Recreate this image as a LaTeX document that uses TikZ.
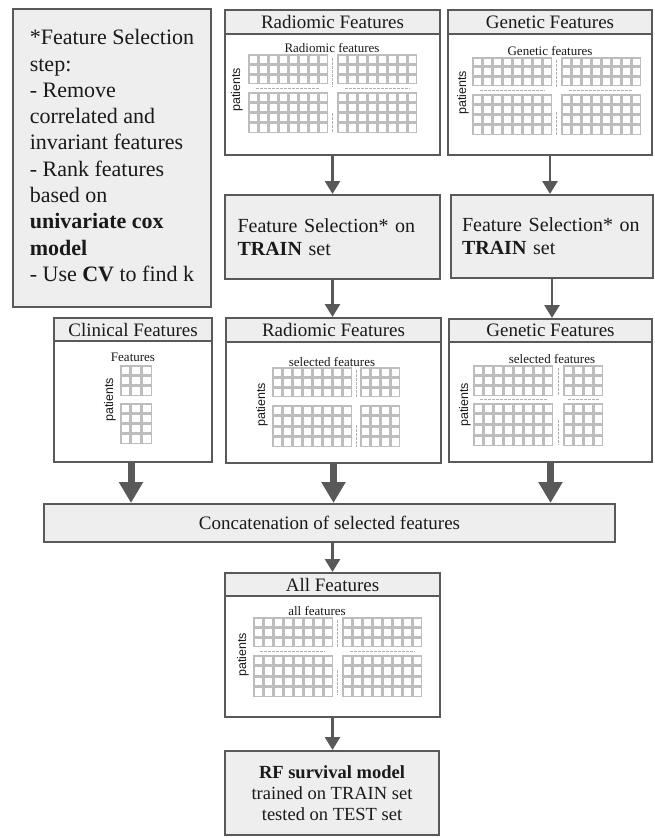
\documentclass[tikz,border=0pt]{standalone}
\usepackage{fontspec}
\setmainfont{Liberation Serif}
\newfontfamily\arialf{Liberation Sans}
\usetikzlibrary{arrows.meta}
\definecolor{bordergray}{HTML}{595959}
\definecolor{boxfill}{HTML}{EEEEEE}
\definecolor{gridgray}{HTML}{BDBDBD}
\definecolor{sepgray}{HTML}{B0B0B0}
\definecolor{textc}{HTML}{1A1A1A}
\newcommand{\cellgrid}[6]{%
  \fill[gridgray] (#1,#2) rectangle ++(#3,#4);
  \pgfmathsetmacro{\cgw}{#3/#5}%
  \pgfmathsetmacro{\cgh}{#4/#6}%
  \foreach \ci in {1,...,#5}{%
    \foreach \cj in {1,...,#6}{%
      \fill[white] ({#1+(\ci-1)*\cgw+1.5},{#2+(\cj-1)*\cgh+1.5}) rectangle ++({\cgw-3},{\cgh-3});
    }%
  }%
}
\begin{document}
\begin{tikzpicture}[x=1pt,y=-1pt,
  outerbox/.style={draw=bordergray, line width=2pt, fill=white, inner sep=0pt, anchor=north west},
  hdrbox/.style={draw=bordergray, line width=2pt, fill=boxfill, inner sep=0pt, anchor=north west, text=textc, font=\fontsize{19}{22}\selectfont},
  graybox/.style={draw=bordergray, line width=2pt, fill=boxfill, anchor=north west, text=textc},
  innerlbl/.style={text=textc, inner sep=0pt, font=\fontsize{13}{15}\selectfont},
  patlbl/.style={rotate=90, text=textc, inner sep=0pt, font=\arialf\fontsize{12.5}{14}\selectfont},
  sepline/.style={draw=sepgray, line width=0.9pt, dash pattern=on 2.5pt off 1.5pt},
  thinarrow/.style={draw=bordergray, line width=2.8pt, -{Triangle[width=15pt,length=13pt]}},
  thickarrow/.style={draw=bordergray, line width=7pt, -{Triangle[width=23pt,length=21pt]}}
]
\useasboundingbox (0,0) rectangle (654,838);

% ---------- left note box ----------
\node[graybox, minimum width=198pt, minimum height=298pt, inner sep=0pt,
      align=left, font=\fontsize{22}{26.3}\selectfont] (note) at (12,8)
 {*Feature Selection\\ step:\\ - Remove\\ correlated and\\ invariant features\\ - Rank features\\ based on\\ \textbf{univariate cox}\\ \textbf{model}\\ - Use \textbf{CV} to find k\rule[-5pt]{0pt}{5pt}};

% ---------- top radiomic ----------
\node[outerbox, minimum width=215pt, minimum height=145pt] (radtop) at (224,9) {};
\node[hdrbox, minimum width=215pt, minimum height=24pt] (radtophdr) at (224,9) {Radiomic Features};
\node[innerlbl] (radtoplbl) at (332,48) {Radiomic features};
\cellgrid{248}{54}{80}{30}{8}{3}
\cellgrid{337}{54}{80}{30}{8}{3}
\cellgrid{248}{92}{80}{41}{8}{4}
\cellgrid{337}{92}{80}{41}{8}{4}
\draw[sepline] (256,88.5) -- (320,88.5);
\draw[sepline] (345,88.5) -- (410,88.5);
\draw[sepline] (332.5,58) -- (332.5,87);
\draw[sepline] (332.5,113) -- (332.5,132);
\node[patlbl] (radtoppat) at (237,90) {patients};

% ---------- top genetic ----------
\node[outerbox, minimum width=204pt, minimum height=145pt] (gentop) at (447,9) {};
\node[hdrbox, minimum width=204pt, minimum height=24pt] (gentophdr) at (447,9) {Genetic Features};
\node[innerlbl] (gentoplbl) at (550,51) {Genetic features};
\cellgrid{472}{57}{80}{29}{8}{3}
\cellgrid{561}{57}{80}{29}{8}{3}
\cellgrid{472}{94}{80}{41}{8}{4}
\cellgrid{561}{94}{80}{41}{8}{4}
\draw[sepline] (480,90.5) -- (545,90.5);
\draw[sepline] (569,90.5) -- (633,90.5);
\draw[sepline] (556.5,60) -- (556.5,88);
\draw[sepline] (556.5,112) -- (556.5,135);
\node[patlbl] (gentoppat) at (463,93) {patients};

% ---------- feature selection boxes ----------
\node[graybox, minimum width=215pt, minimum height=84pt, inner sep=0pt,
      text width=190pt, align=left, font=\fontsize{20}{23}\selectfont] (radfs) at (224,194)
 {Feature Selection* on\\ \textbf{TRAIN} set};
\node[graybox, minimum width=202pt, minimum height=83pt, inner sep=0pt,
      text width=180pt, align=left, font=\fontsize{20}{23}\selectfont] (genfs) at (450,194)
 {Feature Selection* on\\ \textbf{TRAIN} set};

% ---------- clinical ----------
\node[outerbox, minimum width=158pt, minimum height=144pt] (clin) at (53,317) {};
\node[hdrbox, minimum width=158pt, minimum height=23pt] (clinhdr) at (53,317) {Clinical Features};
\node[innerlbl] (clinlbl) at (133,357) {Features};
\cellgrid{120}{365}{32}{31}{3}{3}
\cellgrid{120}{403}{32}{41}{3}{4}
\node[patlbl] (clinpat) at (110,400) {patients};

% ---------- middle radiomic ----------
\node[outerbox, minimum width=215pt, minimum height=145pt] (radmid) at (225,317) {};
\node[hdrbox, minimum width=215pt, minimum height=24pt] (radmidhdr) at (225,317) {Radiomic Features};
\node[innerlbl] (radmidlbl) at (332,362) {selected features};
\cellgrid{272}{367}{80}{30}{8}{3}
\cellgrid{360}{367}{40}{30}{4}{3}
\cellgrid{272}{405}{80}{42}{8}{4}
\cellgrid{360}{405}{40}{42}{4}{4}
\draw[sepline] (356,370) -- (356,398);
\draw[sepline] (356,425) -- (356,447);
\node[patlbl] (radmidpat) at (262,405) {patients};

% ---------- middle genetic ----------
\node[outerbox, minimum width=203pt, minimum height=143pt] (genmid) at (448,318) {};
\node[hdrbox, minimum width=203pt, minimum height=23pt] (genmidhdr) at (448,318) {Genetic Features};
\node[innerlbl] (genmidlbl) at (552,359) {selected features};
\cellgrid{473}{365}{80}{31}{8}{3}
\cellgrid{563}{365}{40}{31}{4}{3}
\cellgrid{473}{403}{80}{43}{8}{4}
\cellgrid{563}{403}{40}{43}{4}{4}
\draw[sepline] (480,399.5) -- (548,399.5);
\draw[sepline] (568,399.5) -- (600,399.5);
\draw[sepline] (558,368) -- (558,395);
\draw[sepline] (558,420) -- (558,445);
\node[patlbl] (genmidpat) at (465,405) {patients};

% ---------- concatenation ----------
\node[graybox, minimum width=571pt, minimum height=38pt, inner sep=0pt,
      font=\fontsize{19}{22}\selectfont] (concat) at (43,503) {Concatenation of selected features};

% ---------- all features ----------
\node[outerbox, minimum width=215pt, minimum height=144pt] (allf) at (224,572) {};
\node[hdrbox, minimum width=215pt, minimum height=23pt] (allfhdr) at (224,572) {All Features};
\node[innerlbl] (allflbl) at (317,611) {all features};
\cellgrid{253}{617}{80}{30}{8}{3}
\cellgrid{342}{617}{80}{30}{8}{3}
\cellgrid{253}{655}{80}{42}{8}{4}
\cellgrid{342}{655}{80}{42}{8}{4}
\draw[sepline] (260,651) -- (325,651);
\draw[sepline] (350,651) -- (415,651);
\draw[sepline] (337.5,620) -- (337.5,648);
\draw[sepline] (337.5,670) -- (337.5,695);
\node[patlbl] (allfpat) at (243,655) {patients};

% ---------- RF model ----------
\node[graybox, minimum width=214pt, minimum height=84pt, inner sep=0pt, align=center,
      font=\fontsize{18.5}{21}\selectfont] (rf) at (224,750)
 {\textbf{RF survival model}\\ trained on TRAIN set\\ tested on TEST set};

% ---------- arrows ----------
\draw[thinarrow] (radtop.south) -- (radtop.south |- radfs.north);
\draw[thinarrow] (gentop.south) -- (gentop.south |- genfs.north);
\draw[thinarrow] (radfs.south) -- (radfs.south |- radmid.north);
\draw[thinarrow] (genfs.south) -- (genfs.south |- genmid.north);
\draw[thickarrow] ([xshift=-2pt]clin.south) -- ([xshift=-2pt]clin.south |- concat.north);
\draw[thickarrow] (radmid.south) -- (radmid.south |- concat.north);
\draw[thickarrow] (genmid.south) -- (genmid.south |- concat.north);
\draw[thinarrow] (concat.south -| allf.north) -- (allf.north);
\draw[thinarrow] (allf.south) -- (allf.south |- rf.north);
\end{tikzpicture}
\end{document}
